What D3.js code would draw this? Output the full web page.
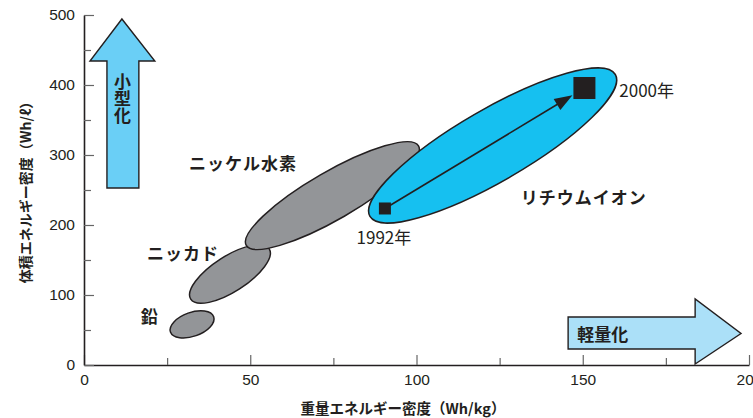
<!DOCTYPE html>
<html><head><meta charset="utf-8">
<script src="https://cdn.jsdelivr.net/npm/d3@7"></script>
<style>
body{margin:0;background:#fff;}
text{fill:#231f20;}
</style></head>
<body><svg id="c" width="753" height="418"></svg>
<script>
// ---- data ----
const xTicks = [0, 50, 100, 150, 200];
const xMinor = [25, 75, 125, 175];
const yTicks = [0, 100, 200, 300, 400, 500];
const yMinor = [50, 150, 250, 350, 450];
const batteries = ["鉛", "ニッカド", "ニッケル水素", "リチウムイオン"];
// ellipse centre (Wh/kg, Wh/l)
const centerX = [32.5, 43.9, 74.7, 122.9];
const centerY = [58, 130, 242, 313.6];
// end of major axis (Wh/kg, Wh/l)
const majorEndX = [39.0, 55.7, 100.6, 159.8];
const majorEndY = [69, 166, 313, 415];
const minorRatio = [0.52, 0.38, 0.24, 0.254];
const years = ["1992年", "2000年"];
const yearX = [90.5, 150.5];
const yearY = [223.6, 395.7];
const xLabel = "重量エネルギー密度（Wh/kg）";
const yLabel = "体積エネルギー密度（Wh/ℓ）";

const svg = d3.select("#c");
const x = d3.scaleLinear().domain([0, 200]).range([84, 749]);
const y = d3.scaleLinear().domain([0, 500]).range([365, 15]);
const ink = "#231f20";
const cjk = "'Noto Sans CJK JP', sans-serif";
const latin = "'Liberation Sans', Arial, sans-serif";

// ---- axes ----
svg.append("g").attr("transform", "translate(0,365)")
  .call(d3.axisBottom(x).tickValues(xTicks).tickSize(-10).tickSizeOuter(0).tickPadding(9));
svg.append("g").attr("transform", "translate(0,365)")
  .call(d3.axisBottom(x).tickValues(xMinor).tickSize(-7).tickFormat("")).select(".domain").remove();
svg.append("g").attr("transform", "translate(84,0)")
  .call(d3.axisLeft(y).tickValues(yTicks).tickSize(-10).tickSizeOuter(0).tickPadding(9));
svg.append("g").attr("transform", "translate(84,0)")
  .call(d3.axisLeft(y).tickValues(yMinor).tickSize(-7).tickFormat("")).select(".domain").remove();
svg.selectAll(".tick line").attr("stroke", "#666").attr("stroke-width", 1.2);
svg.selectAll(".domain").attr("stroke", ink).attr("stroke-width", 1.6);
svg.selectAll(".tick text").attr("font-family", latin).attr("font-size", 15.5).attr("fill", ink);

// ---- big arrows (in data space) ----
function arrowPath(pts){ return "M" + pts.map(p => x(p[0]) + "," + y(p[1])).join("L") + "Z"; }
// up arrow 小型化
svg.append("path").attr("d", arrowPath([
  [6.9, 252.9], [6.9, 434.3], [1.8, 434.3], [11.4, 494.3], [21.3, 434.3], [16.5, 434.3], [16.5, 252.9]
])).attr("fill", "#6acff6").attr("stroke", ink).attr("stroke-width", 1.4);
// right arrow 軽量化
svg.append("path").attr("d", arrowPath([
  [145.6, 68.6], [145.6, 22.9], [183.8, 22.9], [183.8, 1.4], [197.6, 45], [183.8, 94.3], [183.8, 68.6]
])).attr("fill", "#abe0f8").attr("stroke", ink).attr("stroke-width", 1.4);
svg.append("text").attr("x", x(11.6)).attr("y", y(381))
  .attr("text-anchor", "middle").attr("writing-mode", "vertical-rl")
  .attr("font-family", cjk).attr("font-weight", "bold").attr("font-size", 17).text("小型化");
svg.append("text").attr("x", x(156)).attr("y", y(45))
  .attr("text-anchor", "middle").attr("dominant-baseline", "central")
  .attr("font-family", cjk).attr("font-weight", "bold").attr("font-size", 17).text("軽量化");

// ---- ellipses ----
const fills = ["#939598", "#939598", "#939598", "#16c0f0"];
batteries.forEach((b, i) => {
  const cx = x(centerX[i]), cy = y(centerY[i]);
  const ex = x(majorEndX[i]), ey = y(majorEndY[i]);
  const a = Math.hypot(ex - cx, ey - cy);
  const ang = Math.atan2(ey - cy, ex - cx) * 180 / Math.PI;
  svg.append("ellipse").attr("cx", cx).attr("cy", cy).attr("rx", a).attr("ry", a * minorRatio[i])
    .attr("transform", `rotate(${ang},${cx},${cy})`)
    .attr("fill", fills[i]).attr("stroke", ink).attr("stroke-width", 1.5);
});

// ---- arrow between years ----
const p0 = [x(yearX[0]), y(yearY[0])], p1 = [x(yearX[1]), y(yearY[1])];
const dx = p1[0] - p0[0], dy = p1[1] - p0[1], L = Math.hypot(dx, dy);
const ux = dx / L, uy = dy / L;
const tip = [p1[0] - ux * 14, p1[1] - uy * 14];
const base = [tip[0] - ux * 18, tip[1] - uy * 18];
svg.append("line").attr("x1", p0[0]).attr("y1", p0[1]).attr("x2", base[0] + ux * 2).attr("y2", base[1] + uy * 2)
  .attr("stroke", ink).attr("stroke-width", 1.6);
svg.append("path").attr("d", `M${tip[0]},${tip[1]}L${base[0] - uy * 6.5},${base[1] + ux * 6.5}L${base[0] + uy * 6.5},${base[1] - ux * 6.5}Z`)
  .attr("fill", ink);
const sizes = [12, 22];
svg.append("g").selectAll("rect").data(years).join("rect")
  .attr("x", (d, i) => x(yearX[i]) - sizes[i] / 2).attr("y", (d, i) => y(yearY[i]) - sizes[i] / 2)
  .attr("width", (d, i) => sizes[i]).attr("height", (d, i) => sizes[i]).attr("fill", ink);

// ---- labels ----
const labelPos = [[19.8, 71], [29.8, 161], [47.8, 288.6], [150.3, 241]];
svg.append("g").selectAll("text").data(batteries).join("text")
  .attr("x", (d, i) => x(labelPos[i][0])).attr("y", (d, i) => y(labelPos[i][1]))
  .attr("text-anchor", "middle").attr("dominant-baseline", "central")
  .attr("font-family", cjk).attr("font-weight", "bold").attr("font-size", 17)
  .attr("letter-spacing", 1).text(d => d);
const yearLab = [[90.2, 183, "middle"], [161, 393, "start"]];
svg.append("g").selectAll("text").data(years).join("text")
  .attr("x", (d, i) => x(yearLab[i][0])).attr("y", (d, i) => y(yearLab[i][1]))
  .attr("text-anchor", (d, i) => yearLab[i][2]).attr("dominant-baseline", "central")
  .attr("font-family", cjk).attr("font-size", 17).text(d => d);

// ---- axis titles ----
svg.append("text").attr("x", 403).attr("y", 407).attr("text-anchor", "middle").attr("dominant-baseline", "central")
  .attr("font-family", cjk).attr("font-weight", "bold").attr("font-size", 14.5).text(xLabel);
svg.append("text").attr("transform", "translate(25,189) rotate(-90)").attr("text-anchor", "middle")
  .attr("dominant-baseline", "central")
  .attr("font-family", cjk).attr("font-weight", "bold").attr("font-size", 14).text(yLabel);
</script></body></html>
